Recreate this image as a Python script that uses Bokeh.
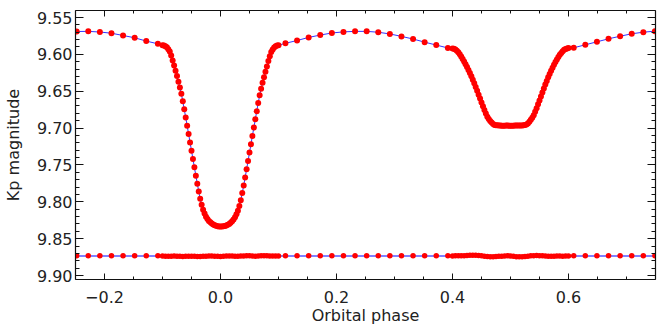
import numpy as np
from bokeh.plotting import figure
from bokeh.models import Range1d, LinearAxis, FixedTicker, PrintfTickFormatter
from bokeh.embed import file_html
from bokeh.resources import INLINE

# ---------------- data ----------------
PHASE_MIN, PHASE_MAX = -0.25, 0.75
MAG_BOTTOM, MAG_TOP = 9.9054, 9.5405
RES_OFFSET = 9.8735   # residuals are plotted around this level

# sparse (out-of-eclipse) observations
ooe_phase = [-0.248, -0.228, -0.208, -0.188, -0.168, -0.148, -0.128, -0.108,
             0.112, 0.132, 0.152, 0.172, 0.192, 0.212, 0.232, 0.252, 0.272, 0.292,
             0.312, 0.332, 0.352, 0.372, 0.392,
             0.609, 0.629, 0.649, 0.669, 0.689, 0.709, 0.729, 0.749]
ooe_mag = [9.5690, 9.5688, 9.5697, 9.5713, 9.5744, 9.5775, 9.5820, 9.5857,
           9.5850, 9.5812, 9.5770, 9.5738, 9.5710, 9.5695, 9.5688, 9.5688, 9.5700, 9.5723,
           9.5756, 9.5792, 9.5834, 9.5874, 9.5913,
           9.5911, 9.5870, 9.5830, 9.5789, 9.5754, 9.5721, 9.5699, 9.5685]
ooe_res = [-0.0003, -0.0002, -0.0004, -0.0003, -0.0002, -0.0003, -0.0004, -0.0002,
           -0.0003, -0.0002, -0.0003, -0.0004, -0.0003, -0.0002, -0.0003, -0.0003, -0.0002, -0.0004,
           -0.0003, -0.0002, -0.0003, -0.0004, -0.0002,
           -0.0002, -0.0004, -0.0003, -0.0004, -0.0003, -0.0004, -0.0003, -0.0002]

# primary eclipse (dense)
prim_phase = [-0.1000, -0.0975, -0.0950, -0.0925, -0.0900, -0.0875, -0.0850, -0.0825, -0.0800, -0.0775,
              -0.0750, -0.0725, -0.0700, -0.0675, -0.0650, -0.0625, -0.0600, -0.0575, -0.0550, -0.0525,
              -0.0500, -0.0475, -0.0450, -0.0425, -0.0400, -0.0375, -0.0350, -0.0325, -0.0300, -0.0275,
              -0.0250, -0.0225, -0.0200, -0.0175, -0.0150, -0.0125, -0.0100, -0.0075, -0.0050, -0.0025,
              0.0000,
              0.0025, 0.0050, 0.0075, 0.0100, 0.0125, 0.0150, 0.0175, 0.0200, 0.0225, 0.0250,
              0.0275, 0.0300, 0.0325, 0.0350, 0.0375, 0.0400, 0.0425, 0.0450, 0.0475, 0.0500,
              0.0525, 0.0550, 0.0575, 0.0600, 0.0625, 0.0650, 0.0675, 0.0700, 0.0725, 0.0750,
              0.0775, 0.0800, 0.0825, 0.0850, 0.0875, 0.0900, 0.0925, 0.0950, 0.0975, 0.1000]
prim_mag = [9.5875, 9.5880, 9.5890, 9.5905, 9.5930, 9.5962, 9.6017, 9.6082, 9.6152, 9.6222,
            9.6295, 9.6370, 9.6450, 9.6535, 9.6637, 9.6745, 9.6855, 9.6968, 9.7081, 9.7194,
            9.7307, 9.7420, 9.7533, 9.7645, 9.7755, 9.7860, 9.7960, 9.8040, 9.8107, 9.8160,
            9.8202, 9.8234, 9.8259, 9.8279, 9.8296, 9.8309, 9.8319, 9.8326, 9.8331, 9.8334,
            9.8335,
            9.8334, 9.8332, 9.8328, 9.8321, 9.8312, 9.8300, 9.8284, 9.8265, 9.8241, 9.8210,
            9.8170, 9.8120, 9.8056, 9.7979, 9.7882, 9.7779, 9.7670, 9.7558, 9.7445, 9.7332,
            9.7219, 9.7106, 9.6993, 9.6880, 9.6770, 9.6660, 9.6556, 9.6468, 9.6386, 9.6309,
            9.6235, 9.6163, 9.6091, 9.6025, 9.5968, 9.5933, 9.5907, 9.5891, 9.5881, 9.5876]
prim_res = [0.0001, 0.0003, 0.0004, 0.0003, 0.0001, 0.0002, 0.0004, 0.0006, 0.0005, 0.0003,
            0.0002, 0.0004, 0.0006, 0.0007, 0.0005, 0.0002, 0.0000, 0.0001, 0.0003, 0.0005,
            0.0006, 0.0004, 0.0001, -0.0001, 0.0000, 0.0002, 0.0003, 0.0001, -0.0001, -0.0003,
            -0.0002, 0.0000, 0.0002, 0.0001, -0.0002, -0.0004, -0.0003, -0.0001, 0.0001, 0.0000,
            -0.0001]

# secondary eclipse (dense)
sec_phase = [0.4000, 0.4025, 0.4050, 0.4075, 0.4100, 0.4125, 0.4150, 0.4175, 0.4200, 0.4225,
             0.4250, 0.4275, 0.4300, 0.4325, 0.4350, 0.4375, 0.4400, 0.4425, 0.4450, 0.4475,
             0.4500, 0.4525, 0.4550, 0.4575, 0.4600, 0.4625, 0.4650, 0.4675, 0.4700, 0.4725,
             0.4750, 0.4775, 0.4800, 0.4825, 0.4850, 0.4875, 0.4900, 0.4925, 0.4950, 0.4975,
             0.5000,
             0.5025, 0.5050, 0.5075, 0.5100, 0.5125, 0.5150, 0.5175, 0.5200, 0.5225, 0.5250,
             0.5275, 0.5300, 0.5325, 0.5350, 0.5375, 0.5400, 0.5425, 0.5450, 0.5475, 0.5500,
             0.5525, 0.5550, 0.5575, 0.5600, 0.5625, 0.5650, 0.5675, 0.5700, 0.5725, 0.5750,
             0.5775, 0.5800, 0.5825, 0.5850, 0.5875, 0.5900, 0.5925, 0.5950, 0.5975, 0.6000]
sec_mag = [9.5920, 9.5925, 9.5935, 9.5950, 9.5972, 9.5998, 9.6028, 9.6062, 9.6097, 9.6134,
           9.6172, 9.6212, 9.6254, 9.6298, 9.6344, 9.6392, 9.6442, 9.6494, 9.6547, 9.6600,
           9.6653, 9.6705, 9.6755, 9.6802, 9.6845, 9.6878, 9.6903, 9.6925, 9.6944, 9.6957,
           9.6961, 9.6963, 9.6964, 9.6965, 9.6967, 9.6968, 9.6967, 9.6966, 9.6966, 9.6968,
           9.6970,
           9.6969, 9.6967, 9.6965, 9.6964, 9.6965, 9.6966, 9.6966, 9.6964, 9.6962, 9.6959,
           9.6953, 9.6938, 9.6913, 9.6887, 9.6859, 9.6826, 9.6780, 9.6730, 9.6678, 9.6625,
           9.6571, 9.6517, 9.6463, 9.6410, 9.6360, 9.6312, 9.6266, 9.6222, 9.6180, 9.6140,
           9.6103, 9.6068, 9.6036, 9.6006, 9.5980, 9.5957, 9.5939, 9.5927, 9.5919, 9.5914]
sec_res = [0.0000, -0.0002, -0.0003, -0.0002, -0.0004, -0.0007, -0.0009, -0.0010, -0.0009, -0.0006,
           -0.0002, 0.0003, 0.0007, 0.0009, 0.0010, 0.0008, 0.0005, 0.0002, 0.0000, -0.0002,
           0.0001, 0.0005, 0.0009, 0.0011, 0.0010, 0.0006, 0.0002, -0.0002, -0.0004, -0.0005,
           -0.0004, -0.0002, 0.0001, 0.0003, 0.0004, 0.0003, 0.0001, 0.0000, 0.0002, 0.0001,
           -0.0001]

# axis ticks
x_major = [-0.2, 0.0, 0.2, 0.4, 0.6]
x_minor = [-0.25, -0.2, -0.15, -0.1, -0.05, 0.0, 0.05, 0.1, 0.15, 0.2, 0.25,
           0.3, 0.35, 0.4, 0.45, 0.5, 0.55, 0.6, 0.65, 0.7, 0.75]
x_labels = {-0.2: "\u22120.2", 0.0: "0.0", 0.2: "0.2", 0.4: "0.4", 0.6: "0.6"}
y_major = [9.55, 9.60, 9.65, 9.70, 9.75, 9.80, 9.85, 9.90]
y_minor = [9.55, 9.56, 9.57, 9.58, 9.59, 9.60, 9.61, 9.62, 9.63, 9.64, 9.65, 9.66,
           9.67, 9.68, 9.69, 9.70, 9.71, 9.72, 9.73, 9.74, 9.75, 9.76, 9.77, 9.78,
           9.79, 9.80, 9.81, 9.82, 9.83, 9.84, 9.85, 9.86, 9.87, 9.88, 9.89, 9.90]

# ---------------- figure ----------------
FONT = "DejaVu Sans"
TXT = "#222222"
AX = "#111111"

p = figure(width=664, height=331,
           x_range=Range1d(PHASE_MIN, PHASE_MAX), y_range=Range1d(MAG_BOTTOM, MAG_TOP),
           output_backend="svg", toolbar_location=None,
           min_border_left=73, min_border_right=9, min_border_top=10, min_border_bottom=52)
p.grid.visible = False
p.outline_line_color = None
p.background_fill_color = "white"
p.border_fill_color = "white"


def base_style(ax):
    ax.major_tick_out = 0
    ax.minor_tick_out = 0
    ax.axis_line_color = AX
    ax.axis_line_width = 1.2
    ax.major_tick_line_color = AX
    ax.minor_tick_line_color = AX
    ax.major_tick_line_width = 1
    ax.minor_tick_line_width = 1


def labelled_axis(ax, ticks, minor, tick_in, minor_in):
    ax.ticker = FixedTicker(ticks=ticks, minor_ticks=minor)
    base_style(ax)
    ax.major_tick_in = tick_in
    ax.minor_tick_in = minor_in
    ax.major_label_text_font = FONT
    ax.major_label_text_font_size = "16px"
    ax.major_label_text_color = TXT
    ax.axis_label_text_font = FONT
    ax.axis_label_text_font_size = "16px"
    ax.axis_label_text_font_style = "normal"
    ax.axis_label_text_color = TXT


def bare_axis(positions, tick_len, draw_line):
    # an axis with ticks only (drawn as minor ticks, so it carries no labels)
    ax = LinearAxis(ticker=FixedTicker(ticks=[], minor_ticks=positions))
    base_style(ax)
    ax.major_tick_in = 0
    ax.minor_tick_in = tick_len
    if not draw_line:
        ax.axis_line_color = None
    return ax


xa = p.xaxis[0]
labelled_axis(xa, x_major, x_minor, 6, 3)
xa.major_label_overrides = x_labels
xa.major_label_standoff = 11
xa.axis_label = "Orbital phase"
xa.axis_label_standoff = 0

ya = p.yaxis[0]
labelled_axis(ya, y_major, y_minor, 8, 4)
ya.formatter = PrintfTickFormatter(format="%.2f")
ya.major_label_standoff = 3
ya.axis_label = "Kp magnitude"
ya.axis_label_standoff = 11

p.add_layout(bare_axis(x_minor, 3, True), "above")
p.add_layout(bare_axis(x_major, 6, False), "above")
p.add_layout(bare_axis(y_minor, 4, True), "right")
p.add_layout(bare_axis(y_major, 8, False), "right")

# light curve + model (model line kept underneath the points)
ph = np.array(ooe_phase + prim_phase + sec_phase)
mg = np.array(ooe_mag + prim_mag + sec_mag)
order = np.argsort(ph)
p.line(ph[order], mg[order], line_color="#3333ff", line_width=1, level="underlay")
p.scatter(ph, mg, size=6, fill_color="#ff0000", line_color=None, level="glyph")

# residuals
res_ph = np.array(ooe_phase + prim_phase[::2] + sec_phase[::2])
res_val = np.array(ooe_res + prim_res + sec_res)
p.line([PHASE_MIN, PHASE_MAX], [RES_OFFSET, RES_OFFSET], line_color="#8080ff", line_width=2,
       level="underlay")
p.scatter(res_ph, RES_OFFSET + res_val, size=5.5, fill_color="#ff0000", line_color=None,
          level="glyph")

open("out.html", "w").write(file_html(p, INLINE))
